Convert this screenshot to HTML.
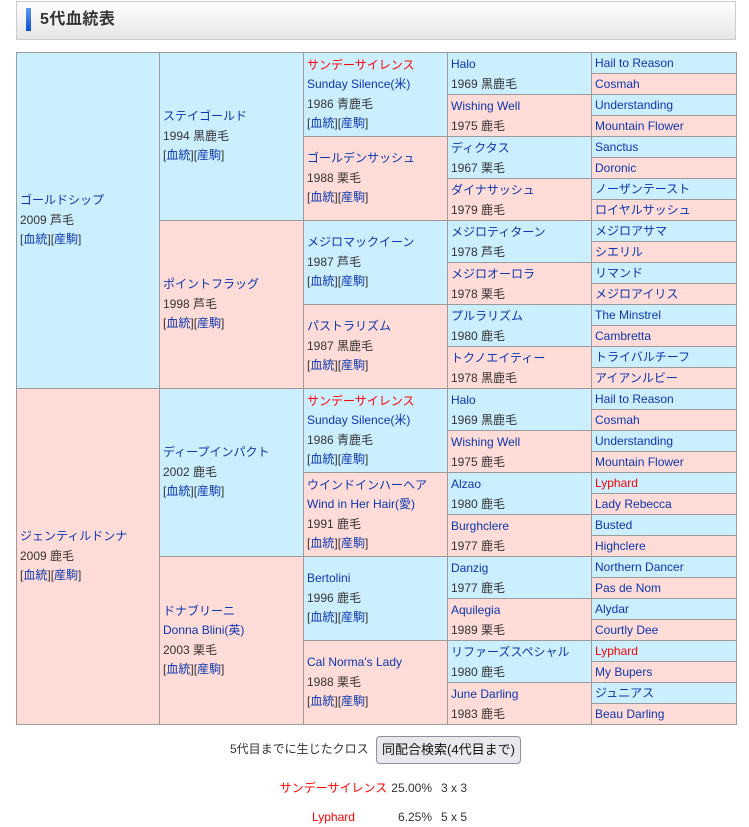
<!DOCTYPE html>
<html><head><meta charset="utf-8">
<style>
html,body{margin:0;padding:0;background:#fff;}
body{width:749px;height:827px;position:relative;overflow:hidden;font-family:"Liberation Sans","Noto Sans CJK JP",sans-serif;color:#333;font-size:12px;}
.hd{position:absolute;left:16px;top:1px;width:720px;height:39px;box-sizing:border-box;border:1px solid #ccc;background:linear-gradient(#ffffff,#e5e5e5);}
.bar{position:absolute;left:26px;top:8px;width:5px;height:23px;background:linear-gradient(#5a9af2,#0a4fd0);}
.ttl{position:absolute;left:40px;top:9px;font-size:16px;font-weight:bold;line-height:22px;color:#333;letter-spacing:0.5px;}
.c{position:absolute;box-sizing:border-box;border:1px solid #9a9a9a;display:flex;flex-direction:column;justify-content:center;padding:0 2px 0 3px;font-size:12px;line-height:19.5px;white-space:nowrap;overflow:hidden;}
.b{background:#ccefff;}
.p{background:#ffdcd7;}
.k1{left:16px;width:144px;height:337px;}
.k2{left:159px;width:145px;height:169px;}
.k3{left:303px;width:145px;height:85px;}
.k4{left:447px;width:145px;height:43px;line-height:20px;}
.k5{left:591px;width:146px;height:22px;line-height:20px;}
a{color:#0b36ad;text-decoration:none;}
.r{color:#f00;}
.t{position:absolute;line-height:20px;font-size:12px;white-space:nowrap;}
.btn{position:absolute;left:376px;top:736px;width:145px;height:28px;box-sizing:border-box;border:1px solid #8f8f9d;border-radius:4px;background:#e9e9ed;font-size:13px;line-height:26px;text-align:center;color:#111;}
</style></head><body>
<div class="hd"></div><div class="bar"></div><div class="ttl">5代血統表</div>

<!-- col1 -->
<div class="c k1 b" style="top:52px"><a>ゴールドシップ</a><span>2009 芦毛</span><span>[<a>血統</a>][<a>産駒</a>]</span></div>
<div class="c k1 p" style="top:388px"><a>ジェンティルドンナ</a><span>2009 鹿毛</span><span>[<a>血統</a>][<a>産駒</a>]</span></div>

<!-- col2 -->
<div class="c k2 b" style="top:52px"><a>ステイゴールド</a><span>1994 黒鹿毛</span><span>[<a>血統</a>][<a>産駒</a>]</span></div>
<div class="c k2 p" style="top:220px"><a>ポイントフラッグ</a><span>1998 芦毛</span><span>[<a>血統</a>][<a>産駒</a>]</span></div>
<div class="c k2 b" style="top:388px"><a>ディープインパクト</a><span>2002 鹿毛</span><span>[<a>血統</a>][<a>産駒</a>]</span></div>
<div class="c k2 p" style="top:556px"><a>ドナブリーニ</a><a>Donna Blini(英)</a><span>2003 栗毛</span><span>[<a>血統</a>][<a>産駒</a>]</span></div>

<!-- col3 -->
<div class="c k3 b" style="top:52px"><a class="r">サンデーサイレンス</a><a>Sunday Silence(米)</a><span>1986 青鹿毛</span><span>[<a>血統</a>][<a>産駒</a>]</span></div>
<div class="c k3 p" style="top:136px"><a>ゴールデンサッシュ</a><span>1988 栗毛</span><span>[<a>血統</a>][<a>産駒</a>]</span></div>
<div class="c k3 b" style="top:220px"><a>メジロマックイーン</a><span>1987 芦毛</span><span>[<a>血統</a>][<a>産駒</a>]</span></div>
<div class="c k3 p" style="top:304px"><a>パストラリズム</a><span>1987 黒鹿毛</span><span>[<a>血統</a>][<a>産駒</a>]</span></div>
<div class="c k3 b" style="top:388px"><a class="r">サンデーサイレンス</a><a>Sunday Silence(米)</a><span>1986 青鹿毛</span><span>[<a>血統</a>][<a>産駒</a>]</span></div>
<div class="c k3 p" style="top:472px"><a>ウインドインハーヘア</a><a>Wind in Her Hair(愛)</a><span>1991 鹿毛</span><span>[<a>血統</a>][<a>産駒</a>]</span></div>
<div class="c k3 b" style="top:556px"><a>Bertolini</a><span>1996 鹿毛</span><span>[<a>血統</a>][<a>産駒</a>]</span></div>
<div class="c k3 p" style="top:640px"><a>Cal Norma's Lady</a><span>1988 栗毛</span><span>[<a>血統</a>][<a>産駒</a>]</span></div>

<!-- col4 -->
<div class="c k4 b" style="top:52px"><a>Halo</a><span>1969 黒鹿毛</span></div>
<div class="c k4 p" style="top:94px"><a>Wishing Well</a><span>1975 鹿毛</span></div>
<div class="c k4 b" style="top:136px"><a>ディクタス</a><span>1967 栗毛</span></div>
<div class="c k4 p" style="top:178px"><a>ダイナサッシュ</a><span>1979 鹿毛</span></div>
<div class="c k4 b" style="top:220px"><a>メジロティターン</a><span>1978 芦毛</span></div>
<div class="c k4 p" style="top:262px"><a>メジロオーロラ</a><span>1978 栗毛</span></div>
<div class="c k4 b" style="top:304px"><a>プルラリズム</a><span>1980 鹿毛</span></div>
<div class="c k4 p" style="top:346px"><a>トクノエイティー</a><span>1978 黒鹿毛</span></div>
<div class="c k4 b" style="top:388px"><a>Halo</a><span>1969 黒鹿毛</span></div>
<div class="c k4 p" style="top:430px"><a>Wishing Well</a><span>1975 鹿毛</span></div>
<div class="c k4 b" style="top:472px"><a>Alzao</a><span>1980 鹿毛</span></div>
<div class="c k4 p" style="top:514px"><a>Burghclere</a><span>1977 鹿毛</span></div>
<div class="c k4 b" style="top:556px"><a>Danzig</a><span>1977 鹿毛</span></div>
<div class="c k4 p" style="top:598px"><a>Aquilegia</a><span>1989 栗毛</span></div>
<div class="c k4 b" style="top:640px"><a>リファーズスペシャル</a><span>1980 鹿毛</span></div>
<div class="c k4 p" style="top:682px"><a>June Darling</a><span>1983 鹿毛</span></div>

<!-- col5 -->
<div class="c k5 b" style="top:52px"><a>Hail to Reason</a></div>
<div class="c k5 p" style="top:73px"><a>Cosmah</a></div>
<div class="c k5 b" style="top:94px"><a>Understanding</a></div>
<div class="c k5 p" style="top:115px"><a>Mountain Flower</a></div>
<div class="c k5 b" style="top:136px"><a>Sanctus</a></div>
<div class="c k5 p" style="top:157px"><a>Doronic</a></div>
<div class="c k5 b" style="top:178px"><a>ノーザンテースト</a></div>
<div class="c k5 p" style="top:199px"><a>ロイヤルサッシュ</a></div>
<div class="c k5 b" style="top:220px"><a>メジロアサマ</a></div>
<div class="c k5 p" style="top:241px"><a>シエリル</a></div>
<div class="c k5 b" style="top:262px"><a>リマンド</a></div>
<div class="c k5 p" style="top:283px"><a>メジロアイリス</a></div>
<div class="c k5 b" style="top:304px"><a>The Minstrel</a></div>
<div class="c k5 p" style="top:325px"><a>Cambretta</a></div>
<div class="c k5 b" style="top:346px"><a>トライバルチーフ</a></div>
<div class="c k5 p" style="top:367px"><a>アイアンルビー</a></div>
<div class="c k5 b" style="top:388px"><a>Hail to Reason</a></div>
<div class="c k5 p" style="top:409px"><a>Cosmah</a></div>
<div class="c k5 b" style="top:430px"><a>Understanding</a></div>
<div class="c k5 p" style="top:451px"><a>Mountain Flower</a></div>
<div class="c k5 b" style="top:472px"><a class="r">Lyphard</a></div>
<div class="c k5 p" style="top:493px"><a>Lady Rebecca</a></div>
<div class="c k5 b" style="top:514px"><a>Busted</a></div>
<div class="c k5 p" style="top:535px"><a>Highclere</a></div>
<div class="c k5 b" style="top:556px"><a>Northern Dancer</a></div>
<div class="c k5 p" style="top:577px"><a>Pas de Nom</a></div>
<div class="c k5 b" style="top:598px"><a>Alydar</a></div>
<div class="c k5 p" style="top:619px"><a>Courtly Dee</a></div>
<div class="c k5 b" style="top:640px"><a class="r">Lyphard</a></div>
<div class="c k5 p" style="top:661px"><a>My Bupers</a></div>
<div class="c k5 b" style="top:682px"><a>ジュニアス</a></div>
<div class="c k5 p" style="top:703px"><a>Beau Darling</a></div>

<!-- bottom -->
<div class="t" style="left:230px;top:739px;">5代目までに生じたクロス</div>
<div class="btn">同配合検索(4代目まで)</div>

<div class="t r" style="left:263px;top:778px;width:141px;text-align:center;">サンデーサイレンス</div>
<div class="t" style="left:380px;top:778px;width:52px;text-align:right;">25.00%</div>
<div class="t" style="left:441px;top:778px;">3 x 3</div>

<div class="t r" style="left:263px;top:807px;width:141px;text-align:center;">Lyphard</div>
<div class="t" style="left:380px;top:807px;width:52px;text-align:right;">6.25%</div>
<div class="t" style="left:441px;top:807px;">5 x 5</div>
</body></html>
